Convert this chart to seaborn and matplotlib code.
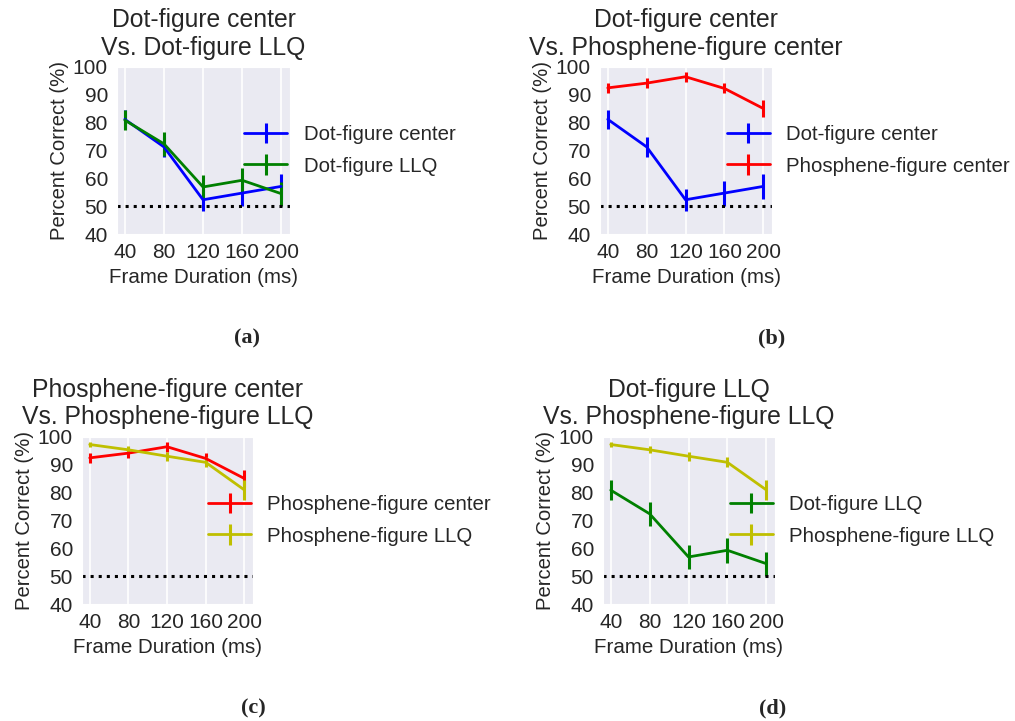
import matplotlib
matplotlib.use('Agg')
import matplotlib.pyplot as plt
import seaborn as sns

# Frame durations (ms)
durations = [40, 80, 120, 160, 200]

# Percent correct per condition, with error bar half-lengths
dot_center = [81.2, 71.3, 52.3, 54.7, 57.1]
dot_center_err = [3.5, 3.5, 4.0, 4.5, 4.5]
dot_llq = [80.9, 72.4, 56.9, 59.3, 54.5]
dot_llq_err = [3.5, 4.2, 4.2, 4.5, 4.3]
phos_center = [92.5, 94.2, 96.5, 92.3, 85.1]
phos_center_err = [1.8, 1.8, 1.8, 1.8, 3.2]
phos_llq = [97.3, 95.4, 93.1, 90.9, 81.0]
phos_llq_err = [1.0, 1.3, 1.6, 1.8, 3.5]

chance_level = 50

series = {
    'Dot-figure center': (dot_center, dot_center_err, (0, 0, 1)),
    'Dot-figure LLQ': (dot_llq, dot_llq_err, (0, 0.5, 0)),
    'Phosphene-figure center': (phos_center, phos_center_err, (1, 0, 0)),
    'Phosphene-figure LLQ': (phos_llq, phos_llq_err, (0.75, 0.75, 0)),
}

panels = [
    ('Dot-figure center\nVs. Dot-figure LLQ', ['Dot-figure center', 'Dot-figure LLQ'], '(a)'),
    ('Dot-figure center\nVs. Phosphene-figure center', ['Dot-figure center', 'Phosphene-figure center'], '(b)'),
    ('Phosphene-figure center\nVs. Phosphene-figure LLQ', ['Phosphene-figure center', 'Phosphene-figure LLQ'], '(c)'),
    ('Dot-figure LLQ\nVs. Phosphene-figure LLQ', ['Dot-figure LLQ', 'Phosphene-figure LLQ'], '(d)'),
]

sns.set_style('darkgrid')
plt.rcParams['font.family'] = ['Liberation Sans', 'DejaVu Sans']

W, H = 1015, 721
fig = plt.figure(figsize=(W / 100, H / 100), dpi=100)

# axes boxes in pixels: left, top, right, bottom
boxes = [(117, 67, 290, 234), (600, 67, 772, 234), (82, 437, 253, 604), (603, 437, 775, 604)]
label_pos = [(247, 338), (772, 338), (253, 708), (773, 708)]

for (title, names, tag), (l, t, r, b), (lx, ly) in zip(panels, boxes, label_pos):
    ax = fig.add_axes([l / W, 1 - b / H, (r - l) / W, (b - t) / H])
    for name in names:
        vals, errs, col = series[name]
        ax.errorbar(durations, vals, yerr=errs, fmt='-', color=col, lw=2,
                    elinewidth=2.2, capsize=0, label=name)
    ax.axhline(chance_level, color='k', ls=':', lw=2.2)
    ax.set_xlim(32, 209)
    ax.set_ylim(40, 100)
    ax.set_xticks(durations)
    ax.set_yticks(range(40, 101, 10))
    ax.grid(False, axis='y')
    ax.grid(True, axis='x', color='white', lw=1.2)
    ax.tick_params(labelsize=15, colors='.15', pad=3)
    ax.set_xlabel('Frame Duration (ms)', fontsize=14.8, color='.15', labelpad=4)
    ax.set_ylabel('Percent Correct (%)', fontsize=14.6, color='.15', labelpad=3)
    ax.set_title(title, fontsize=17.8, color='.15', pad=9)
    leg = ax.legend(loc='center left', bbox_to_anchor=(0.63, 0.5), frameon=False,
                    fontsize=14.7, handlelength=2.1, labelspacing=0.6)
    for txt in leg.get_texts():
        txt.set_color('.15')
    fig.text(lx / W, 1 - ly / H, tag, ha='center', va='center', fontsize=16,
             fontweight='bold', family=['Liberation Serif', 'DejaVu Serif'])

fig.savefig('out.png', dpi=100)
